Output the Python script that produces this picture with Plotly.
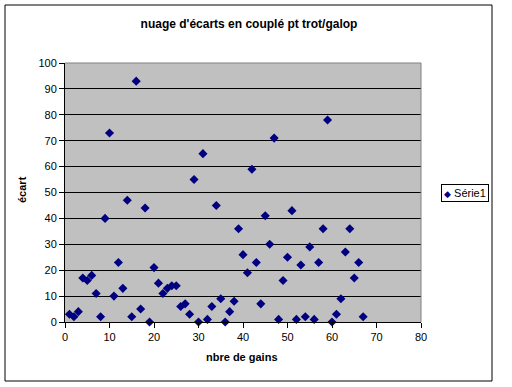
import plotly.graph_objects as go

nbre_de_gains = list(range(1, 68))
ecart = [3, 2, 4, 17, 16, 18, 11, 2, 40, 73,
         10, 23, 13, 47, 2, 93, 5, 44, 0, 21,
         15, 11, 13, 14, 14, 6, 7, 3, 55, 0,
         65, 1, 6, 45, 9, 0, 4, 8, 36, 26,
         19, 59, 23, 7, 41, 30, 71, 1, 16, 25,
         43, 1, 22, 2, 29, 1, 23, 36, 78, 0,
         3, 9, 27, 36, 17, 23, 2]
series_name = "Série1"
x_ticks = [0, 10, 20, 30, 40, 50, 60, 70, 80]
y_ticks = [0, 10, 20, 30, 40, 50, 60, 70, 80, 90, 100]

FONT = "Liberation Sans, Arial, sans-serif"
W, H = 512, 387
L, R, T, B = 65, 421, 63, 322
pw, ph = R - L, B - T
NAVY = "#000080"

def px_x(p):
    return (p - L) / pw

def px_y(p):
    return (B - p) / ph

fig = go.Figure()
fig.add_trace(go.Scatter(
    x=nbre_de_gains, y=ecart, mode="markers", name=series_name,
    marker=dict(symbol="diamond", size=7, color=NAVY, line=dict(width=0)),
    cliponaxis=False, showlegend=False, hoverinfo="skip",
))

fig.update_layout(
    width=W, height=H,
    margin=dict(l=L, r=W - R, t=T, b=H - B, pad=0, autoexpand=False),
    paper_bgcolor="white", plot_bgcolor="#C0C0C0",
    font=dict(family=FONT, size=11, color="black"),
    title=dict(text="<b>nuage d'écarts en couplé pt trot/galop</b>",
               x=249 / W, xanchor="center", xref="container",
               y=1 - 24 / H, yanchor="middle", yref="container",
               font=dict(family=FONT, size=12, color="black")),
    showlegend=False,
    xaxis=dict(range=[0, 80], tickvals=x_ticks, showgrid=False,
               zeroline=False, ticks="outside", ticklen=5, tickcolor="black",
               showline=True, linecolor="black", linewidth=1,
               automargin=False,
               tickfont=dict(family=FONT, size=11, color="black")),
    yaxis=dict(range=[0, 100], tickvals=y_ticks, showgrid=True,
               gridcolor="black", gridwidth=1, zeroline=False,
               ticks="outside", ticklen=5, tickcolor="black",
               showline=True, linecolor="black", linewidth=1,
               automargin=False,
               tickfont=dict(family=FONT, size=11, color="black")),
    shapes=[
        dict(type="rect", xref="paper", yref="paper",
             x0=px_x(5), x1=px_x(492), y0=px_y(381), y1=px_y(5),
             line=dict(color="black", width=1), fillcolor="rgba(0,0,0,0)",
             layer="above"),
        dict(type="line", xref="paper", yref="paper",
             x0=0, x1=1, y0=1, y1=1, line=dict(color="#808080", width=1)),
        dict(type="line", xref="paper", yref="paper",
             x0=1, x1=1, y0=0, y1=1, line=dict(color="#808080", width=1)),
    ],
    annotations=[
        dict(text="<b>écart</b>", xref="paper", yref="paper",
             x=px_x(22), y=px_y(190), textangle=-90, showarrow=False,
             xanchor="center", yanchor="middle",
             font=dict(family=FONT, size=11, color="black")),
        dict(text="<b>nbre de gains</b>", xref="paper", yref="paper",
             x=px_x(242), y=px_y(357), showarrow=False,
             xanchor="center", yanchor="middle",
             font=dict(family=FONT, size=11, color="black")),
        dict(text=f"<span style='color:{NAVY};font-size:9px'>◆</span> {series_name}",
             xref="paper", yref="paper",
             x=px_x(441), y=px_y(193), showarrow=False,
             xanchor="left", yanchor="middle",
             bordercolor="black", borderwidth=1, borderpad=2,
             bgcolor="white",
             font=dict(family=FONT, size=11, color="black")),
    ],
)

fig.write_html("out.html",
               config={"displayModeBar": False, "staticPlot": True},
               post_script="document.body.style.margin='0';document.body.style.overflow='hidden';")
